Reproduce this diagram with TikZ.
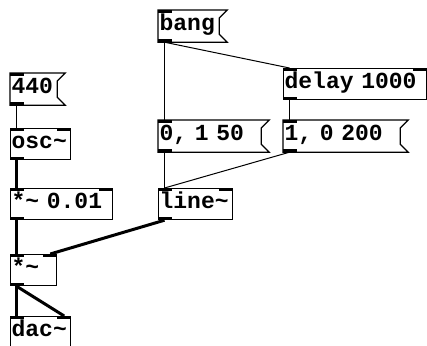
\documentclass[tikz,border=0pt]{standalone}
\usepackage{fontspec}
\newfontfamily\pdmono{Liberation Mono}
% monospaced 23pt text with a fixed, full-width word space
\newcommand\pdfnt{\fontsize{23pt}{23pt}\selectfont\bfseries\pdmono
  \spaceskip=13.8pt\relax\xspaceskip=13.8pt\relax}
\begin{document}
\begin{tikzpicture}[x=1pt,y=-1pt,
  box/.style={anchor=north west, inner xsep=1pt, inner ysep=0pt, align=left,
    text height=19.5pt, text depth=11.5pt, font=\pdfnt, line width=1.2pt},
  obj/.style={box, draw},
  msg/.style={box},
  ctl/.style={line width=1pt},
  sig/.style={line width=3pt},
  port/.style={fill=black}
]
\useasboundingbox (0,0) rectangle (427,345);

% message boxes (outline with flag drawn below)
\node[msg, text width=58pt, minimum width=60pt]   (bang)  at (158,10)  {bang};
\node[msg, text width=100pt, minimum width=102pt] (up)    at (158,120) {0, 1 50};
\node[msg, text width=114pt, minimum width=116pt] (down)  at (283,120) {1, 0 200};
\node[msg, text width=44pt, minimum width=46pt]   (freq)  at (10,73)   {440};

% object boxes
\node[obj, text width=141pt, minimum width=143pt] (delay) at (283,68)  {delay 1000};
\node[obj, text width=58pt, minimum width=60pt]   (osc)   at (10,128)  {osc\char`~};
\node[obj, text width=100pt, minimum width=102pt] (gain)  at (10,188)  {*\char`~{} 0.01};
\node[obj, text width=72pt, minimum width=74pt]   (ramp)  at (158,188) {line\char`~};
\node[obj, text width=44pt, minimum width=46pt]   (vca)   at (10,254)  {*\char`~};
\node[obj, text width=58pt, minimum width=60pt]   (dac)   at (10,316)  {dac\char`~};

% flag outline of a message box
\newcommand\msgflag[1]{%
  \draw[line width=1.2pt] (#1.north west) -- ([xshift=8pt]#1.north east)
    -- ([yshift=-8pt]#1.north east) -- ([yshift=8pt]#1.south east)
    -- ([xshift=8pt]#1.south east) -- (#1.south west) -- cycle;}
\msgflag{bang}
\msgflag{up}
\msgflag{down}
\msgflag{freq}

% inlets and outlets
\newcommand\inl[1]{\fill[port] (#1.north west) rectangle ++(14pt,-3pt);}
\newcommand\inr[1]{\fill[port] (#1.north east) rectangle ++(-14pt,-3pt);}
\newcommand\outl[1]{\fill[port] (#1.south west) rectangle ++(14pt,3pt);}
\inl{bang}\outl{bang}
\inl{up}\outl{up}
\inl{down}\outl{down}
\inl{freq}\outl{freq}
\inl{delay}\inr{delay}\outl{delay}
\inl{osc}\inr{osc}\outl{osc}
\inl{gain}\inr{gain}\outl{gain}
\inl{ramp}\inr{ramp}\outl{ramp}
\inl{vca}\inr{vca}\outl{vca}
\inl{dac}\inr{dac}

% control connections
\draw[ctl] ([xshift=6.5pt]bang.south west) -- ([xshift=6.5pt]delay.north west);
\draw[ctl] ([xshift=6.5pt]bang.south west) -- ([xshift=6.5pt]up.north west);
\draw[ctl] ([xshift=6.5pt]delay.south west) -- ([xshift=6.5pt]down.north west);
\draw[ctl] ([xshift=6.5pt]up.south west) -- ([xshift=6.5pt]ramp.north west);
\draw[ctl] ([xshift=6.5pt]down.south west) -- ([xshift=6.5pt]ramp.north west);
\draw[ctl] ([xshift=6.5pt]freq.south west) -- ([xshift=6.5pt]osc.north west);

% signal connections
\draw[sig] ([xshift=6.5pt]osc.south west) -- ([xshift=6.5pt]gain.north west);
\draw[sig] ([xshift=6.5pt]gain.south west) -- ([xshift=6.5pt]vca.north west);
\draw[sig] ([xshift=6.5pt]ramp.south west) -- ([xshift=-7pt]vca.north east);
\draw[sig] ([xshift=6.5pt]vca.south west) -- ([xshift=6.5pt]dac.north west);
\draw[sig] ([xshift=6.5pt]vca.south west) -- ([xshift=-7pt]dac.north east);
\end{tikzpicture}
\end{document}
